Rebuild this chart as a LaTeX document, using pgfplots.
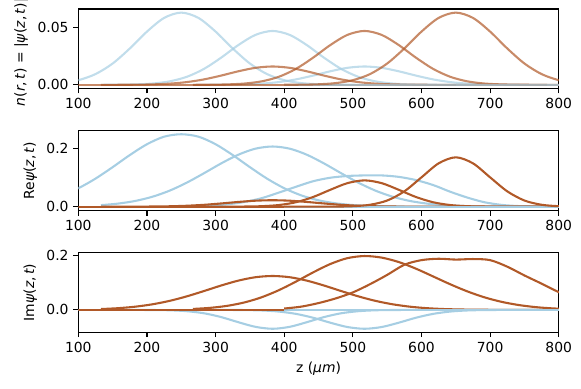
\documentclass[border=0pt]{standalone}
\usepackage{fontspec}
\setmainfont{DejaVu Sans}
\usepackage{pgfplots}
\pgfplotsset{compat=1.18}

\definecolor{cblue}{HTML}{A6CEE3}
\definecolor{cbrown}{HTML}{B15928}

\pgfplotsset{
  panel/.style={
    anchor=south west, scale only axis, width=345.9pt,
    xmin=100, xmax=800, xtick={100,200,...,800},
    tick align=outside, xtick pos=lower, ytick pos=left,
    major tick length=3.5pt,
    tick style={black, line width=0.8pt},
    axis line style={line width=0.8pt},
    scaled y ticks=false,
    /pgf/number format/assume math mode=true,
    tick label style={font=\fontsize{10}{12}\selectfont},
    label style={font=\fontsize{10}{12}\selectfont},
  },
  bl/.style={color=cblue, line width=1.5pt, smooth, line join=round},
  br/.style={color=cbrown, line width=1.5pt, smooth, line join=round},
}

\begin{document}
\begin{tikzpicture}

% |psi|^2
\begin{axis}[panel, at={(56.4pt,216.4pt)}, height=57.2pt,
  ymin=-0.00315, ymax=0.06615, ytick={0,0.05},
  yticklabel style={/pgf/number format/.cd, fixed, fixed zerofill, precision=2},
  ylabel={\textit{n}(\textit{r},\,\textit{t}) = |\textit{ψ}(\textit{z},\,\textit{t})|\textsuperscript{2}},
  every axis plot/.append style={draw opacity=0.7}]
\addplot[bl] coordinates {(0,0.00003) (25,0.00013) (50,0.00048) (75,0.0015) (100,0.00404) (125,0.00936) (150,0.01859) (175,0.03171) (200,0.04643) (225,0.05837) (250,0.063) (275,0.05837) (300,0.04643) (325,0.03171) (350,0.01859) (375,0.00936) (400,0.00404) (425,0.0015) (450,0.00048) (475,0.00013) (500,0.00003) (650,0)};
\addplot[bl] coordinates {(133,0.00002) (158,0.0001) (183,0.00036) (208,0.00112) (233,0.00301) (258,0.00698) (283,0.01387) (308,0.02366) (333,0.03464) (358,0.04355) (383,0.047) (408,0.04355) (433,0.03464) (458,0.02366) (483,0.01387) (508,0.00698) (533,0.00301) (558,0.00112) (583,0.00036) (608,0.0001) (633,0.00002) (783,0)};
\addplot[bl] coordinates {(267,0.00001) (292,0.00003) (317,0.00012) (342,0.00038) (367,0.00103) (392,0.00238) (417,0.00472) (442,0.00805) (467,0.01179) (492,0.01482) (517,0.016) (542,0.01482) (567,0.01179) (592,0.00805) (617,0.00472) (642,0.00238) (667,0.00103) (692,0.00038) (717,0.00012) (742,0.00003) (767,0.00001) (917,0)};
\addplot[br] coordinates {(0,0) (650,0)};
\addplot[br] coordinates {(133,0.00001) (158,0.00003) (183,0.00012) (208,0.00038) (233,0.00103) (258,0.00238) (283,0.00472) (308,0.00805) (333,0.01179) (358,0.01482) (383,0.016) (408,0.01482) (433,0.01179) (458,0.00805) (483,0.00472) (508,0.00238) (533,0.00103) (558,0.00038) (583,0.00012) (608,0.00003) (633,0.00001) (783,0)};
\addplot[br] coordinates {(267,0.00002) (292,0.0001) (317,0.00036) (342,0.00112) (367,0.00301) (392,0.00698) (417,0.01387) (442,0.02366) (467,0.03464) (492,0.04355) (517,0.047) (542,0.04355) (567,0.03464) (592,0.02366) (617,0.01387) (642,0.00698) (667,0.00301) (692,0.00112) (717,0.00036) (742,0.0001) (767,0.00002) (917,0)};
\addplot[bl] coordinates {(400,0) (900,0)};
\addplot[br] coordinates {(400,0.00003) (425,0.00013) (450,0.00048) (475,0.0015) (500,0.00404) (525,0.00936) (550,0.01859) (575,0.03171) (600,0.04643) (625,0.05837) (650,0.063) (675,0.05837) (700,0.04643) (725,0.03171) (750,0.01859) (775,0.00936) (800,0.00404) (825,0.0015) (850,0.00048) (875,0.00013) (900,0.00003)};
\end{axis}

% Re psi
\begin{axis}[panel, at={(56.4pt,128.4pt)}, height=57.6pt,
  ymin=-0.0137, ymax=0.2603, ytick={0,0.2},
  yticklabel style={/pgf/number format/.cd, fixed, fixed zerofill, precision=1},
  ylabel={Re\textit{ψ}(\textit{z},\,\textit{t})}]
\addplot[bl] coordinates {(0,0.0055) (25,0.0114) (50,0.0217) (75,0.0385) (100,0.0631) (125,0.0960) (150,0.1353) (175,0.1767) (200,0.2138) (225,0.2397) (250,0.248) (275,0.2397) (300,0.2138) (325,0.1767) (350,0.1353) (375,0.0960) (400,0.0631) (425,0.0385) (450,0.0217) (475,0.0114) (500,0.0055) (525,0.0025) (550,0.001) (575,0.0004) (600,0.0001) (650,0)};
\addplot[bl] coordinates {(133,0.0052) (158,0.0105) (183,0.0196) (208,0.0340) (233,0.0548) (258,0.0822) (283,0.1144) (308,0.1480) (333,0.1778) (358,0.1986) (383,0.206) (408,0.1986) (433,0.1778) (458,0.1480) (483,0.1144) (508,0.0822) (533,0.0548) (558,0.0340) (583,0.0196) (608,0.0105) (633,0.0052) (658,0.0024) (683,0.001) (708,0.0004) (733,0.0001) (783,0)};
\addplot[bl] coordinates {(267,0.002) (292,0.004) (317,0.008) (342,0.016) (367,0.029) (392,0.048) (417,0.068) (442,0.087) (467,0.099) (492,0.105) (517,0.107) (542,0.107) (567,0.102) (592,0.091) (617,0.074) (642,0.051) (667,0.031) (692,0.015) (717,0.006) (742,0.002) (767,0.001) (792,0) (917,0)};
\addplot[br] coordinates {(0,0) (650,0)};
\addplot[br] coordinates {(133,0) (158,0) (183,0.0001) (208,0.0005) (233,0.0013) (258,0.0031) (283,0.0063) (308,0.0109) (333,0.0161) (358,0.0204) (383,0.022) (408,0.0204) (433,0.0161) (458,0.0109) (483,0.0063) (508,0.0031) (533,0.0013) (558,0.0005) (583,0.0001) (608,0) (783,0)};
\addplot[br] coordinates {(267,0) (292,0) (317,0.0001) (342,0.0004) (367,0.0016) (392,0.0055) (417,0.0151) (442,0.033) (467,0.0576) (492,0.0805) (517,0.09) (542,0.0805) (567,0.0576) (592,0.033) (617,0.0151) (642,0.0055) (667,0.0016) (692,0.0004) (717,0.0001) (742,0) (917,0)};
\addplot[bl] coordinates {(400,0) (900,0)};
\addplot[br] coordinates {(400,0) (425,0) (450,0) (475,0.0003) (500,0.0016) (525,0.0065) (550,0.021) (575,0.0524) (600,0.1004) (625,0.1484) (650,0.169) (675,0.1484) (700,0.1004) (725,0.0524) (750,0.021) (775,0.0065) (800,0.0016) (825,0.0003) (850,0) (875,0) (900,0)};
\end{axis}

% Im psi
\begin{axis}[panel, at={(56.4pt,40.8pt)}, height=57.3pt,
  ymin=-0.082, ymax=0.209, ytick={0,0.2},
  yticklabel style={/pgf/number format/.cd, fixed, fixed zerofill, precision=1},
  ylabel={Im\textit{ψ}(\textit{z},\,\textit{t})},
  xlabel={z (\textit{μm})}]
\addplot[bl] coordinates {(0,0) (650,0)};
\addplot[bl] coordinates {(133,0) (158,0) (183,-0.0001) (208,-0.0004) (233,-0.0014) (258,-0.0047) (283,-0.0123) (308,-0.0262) (333,-0.0449) (358,-0.0619) (383,-0.069) (408,-0.0619) (433,-0.0449) (458,-0.0262) (483,-0.0123) (508,-0.0047) (533,-0.0014) (558,-0.0004) (583,-0.0001) (608,0) (783,0)};
\addplot[bl] coordinates {(267,0) (292,0) (317,-0.0001) (342,-0.0006) (367,-0.002) (392,-0.006) (417,-0.0145) (442,-0.0286) (467,-0.0467) (492,-0.0626) (517,-0.069) (542,-0.0626) (567,-0.0467) (592,-0.0286) (617,-0.0145) (642,-0.006) (667,-0.002) (692,-0.0006) (717,-0.0001) (742,0) (917,0)};
\addplot[br] coordinates {(0,0) (650,0)};
\addplot[br] coordinates {(133,0.0031) (158,0.0063) (183,0.0118) (208,0.0205) (233,0.0330) (258,0.0495) (283,0.0689) (308,0.0891) (333,0.1070) (358,0.1195) (383,0.124) (408,0.1195) (433,0.1070) (458,0.0891) (483,0.0689) (508,0.0495) (533,0.0330) (558,0.0205) (583,0.0118) (608,0.0063) (633,0.0031) (658,0.0015) (683,0.0006) (708,0.0003) (733,0.0001) (783,0)};
\addplot[br] coordinates {(267,0.0035) (292,0.0075) (317,0.0149) (342,0.0273) (367,0.0461) (392,0.0719) (417,0.1033) (442,0.137) (467,0.1676) (492,0.1892) (517,0.197) (542,0.1912) (567,0.1749) (592,0.1507) (617,0.1223) (642,0.0936) (667,0.0675) (692,0.0458) (717,0.0293) (742,0.0177) (767,0.01) (792,0.0054) (817,0.0027) (842,0.0013) (917,0)};
\addplot[bl] coordinates {(400,0) (900,0)};
\addplot[br] coordinates {(400,0.005) (425,0.012) (450,0.025) (475,0.042) (500,0.064) (525,0.094) (550,0.128) (575,0.165) (600,0.182) (625,0.187) (650,0.184) (675,0.186) (700,0.182) (725,0.158) (750,0.126) (775,0.096) (800,0.065) (825,0.040) (850,0.022) (875,0.011) (900,0.005)};
\end{axis}

\pgfresetboundingbox
\path (0,0) rectangle (418.32pt,280.08pt);
\end{tikzpicture}
\end{document}
